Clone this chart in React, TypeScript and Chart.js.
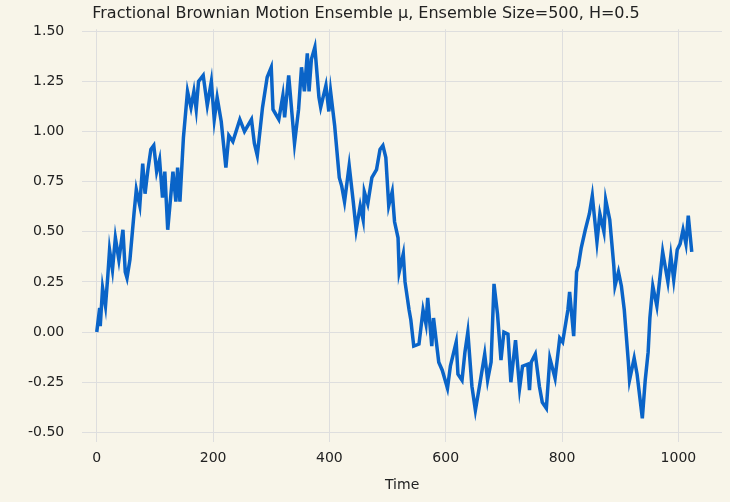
import { useEffect, useRef } from "react";
import Chart from "chart.js/auto";

const times = [0, 5, 6, 10, 15, 19, 22, 27, 32, 38, 45, 49, 52, 57, 64, 68, 74, 79, 83, 88, 93, 98, 103, 108, 113, 117, 122, 131, 136, 139, 143, 149, 156, 162, 167, 171, 175, 183, 190, 197, 202, 207, 214, 222, 227, 234, 246, 254, 266, 271, 276, 285, 293, 300, 303, 313, 320, 323, 330, 340, 347, 352, 357, 362, 365, 369, 375, 382, 385, 394, 399, 402, 409, 417, 421, 426, 434, 441, 446, 453, 458, 460, 466, 473, 481, 487, 492, 497, 502, 508, 512, 518, 520, 527, 530, 537, 540, 545, 554, 561, 566, 569, 576, 579, 588, 594, 603, 608, 618, 621, 628, 633, 638, 645, 651, 658, 667, 672, 678, 683, 689, 695, 700, 707, 712, 720, 727, 732, 741, 744, 747, 754, 761, 766, 773, 779, 788, 796, 801, 810, 813, 820, 825, 828, 833, 840, 847, 852, 860, 865, 872, 875, 882, 889, 891, 897, 902, 907, 914, 916, 924, 929, 938, 943, 948, 951, 956, 963, 973, 982, 987, 992, 998, 1003, 1008, 1013, 1017, 1023];
const muValues = [0, 0.12, 0.03, 0.22, 0.13, 0.28, 0.41, 0.31, 0.47, 0.36, 0.51, 0.3, 0.27, 0.36, 0.59, 0.71, 0.63, 0.84, 0.69, 0.81, 0.91, 0.93, 0.8, 0.86, 0.67, 0.8, 0.51, 0.8, 0.65, 0.82, 0.65, 0.97, 1.2, 1.12, 1.2, 1.11, 1.25, 1.28, 1.13, 1.25, 1.06, 1.17, 1.05, 0.82, 0.98, 0.95, 1.06, 1.0, 1.06, 0.94, 0.88, 1.12, 1.27, 1.32, 1.11, 1.06, 1.18, 1.07, 1.28, 0.94, 1.11, 1.32, 1.2, 1.39, 1.2, 1.36, 1.42, 1.17, 1.12, 1.23, 1.1, 1.2, 1.03, 0.77, 0.73, 0.65, 0.83, 0.65, 0.51, 0.63, 0.56, 0.7, 0.64, 0.77, 0.81, 0.91, 0.93, 0.87, 0.63, 0.7, 0.55, 0.47, 0.3, 0.39, 0.25, 0.11, 0.06, -0.07, -0.06, 0.11, 0.04, 0.17, -0.07, 0.07, -0.15, -0.19, -0.28, -0.17, -0.05, -0.21, -0.24, -0.1, 0, -0.27, -0.39, -0.27, -0.11, -0.24, -0.15, 0.24, 0.09, -0.14, 0, -0.01, -0.25, -0.04, -0.28, -0.17, -0.16, -0.29, -0.15, -0.11, -0.27, -0.35, -0.38, -0.13, -0.23, -0.03, -0.05, 0.11, 0.2, -0.02, 0.3, 0.33, 0.42, 0.51, 0.59, 0.68, 0.45, 0.59, 0.5, 0.66, 0.56, 0.33, 0.23, 0.3, 0.23, 0.11, -0.15, -0.24, -0.13, -0.21, -0.43, -0.24, -0.1, 0.07, 0.23, 0.13, 0.4, 0.25, 0.38, 0.26, 0.41, 0.44, 0.51, 0.44, 0.58, 0.4];
const yTicks = [-0.5, -0.25, 0, 0.25, 0.5, 0.75, 1.0, 1.25, 1.5];
const xTicks = [0, 200, 400, 600, 800, 1000];

export default function App() {
  const chartRef = useRef<HTMLCanvasElement>(null);

  useEffect(() => {
    if (!chartRef.current) return;
    const bg = {
      id: "bg",
      beforeDraw: (c: Chart) => {
        const ctx = c.ctx;
        ctx.save();
        ctx.fillStyle = "#f8f5e9";
        ctx.fillRect(0, 0, c.width, c.height);
        ctx.restore();
      }
    };
    const font = { family: "DejaVu Sans", size: 14 };
    const chart = new Chart(chartRef.current, {
      type: "line",
      data: {
        datasets: [
          {
            data: times.map((t, i) => ({ x: t, y: muValues[i] })),
            borderColor: "#0a64c8",
            borderWidth: 3.5,
            pointRadius: 0,
            tension: 0
          }
        ]
      },
      options: {
        animation: false,
        responsive: false,
        layout: { padding: { right: 8, left: 10, bottom: 6 } },
        plugins: {
          legend: { display: false },
          tooltip: { enabled: false },
          title: {
            display: true,
            text: "Fractional Brownian Motion Ensemble μ, Ensemble Size=500, H=0.5",
            color: "#222",
            font: { family: "DejaVu Sans", size: 16, weight: "normal" },
            padding: { top: 4, bottom: 6 }
          }
        },
        scales: {
          x: {
            type: "linear",
            min: -25,
            max: 1075,
            afterBuildTicks: (a: any) => {
              a.ticks = xTicks.map(v => ({ value: v }));
            },
            grid: { color: "#dedede", lineWidth: 1, drawTicks: false },
            border: { display: false },
            ticks: { color: "#222", font, padding: 8, callback: (v: any) => String(v) },
            title: { display: true, text: "Time", color: "#222", font, padding: 2 }
          },
          y: {
            min: -0.55,
            max: 1.51,
            afterBuildTicks: (a: any) => {
              a.ticks = yTicks.map(v => ({ value: v }));
            },
            grid: { color: "#dedede", lineWidth: 1, drawTicks: false },
            border: { display: false },
            ticks: {
              color: "#222",
              font,
              padding: 18,
              callback: (v: any) => Number(v).toFixed(2)
            }
          }
        }
      },
      plugins: [bg]
    });
    return () => chart.destroy();
  }, []);

  return (
    <div style={{ position: "absolute", left: 0, top: 0 }}>
      <canvas ref={chartRef} width={730} height={502} style={{ display: "block" }} />
    </div>
  );
}
